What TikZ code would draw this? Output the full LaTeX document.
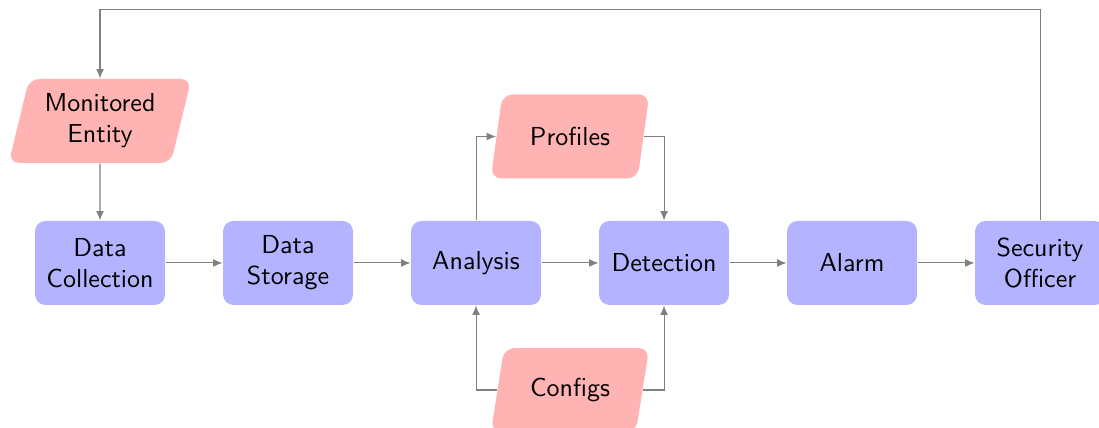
\documentclass[tikz,border=0pt]{standalone}
\usepackage{xcolor}
\definecolor{stageblue}{HTML}{B3B3FF}
\definecolor{datared}{HTML}{FFB3B3}
\definecolor{wiregray}{HTML}{808080}
\usepackage{tikz}
\usetikzlibrary{positioning,shapes.geometric,arrows.meta,calc}

\begin{document}
\begin{tikzpicture}[
    font=\sffamily,
    node distance=0.77cm,
    stage/.style={rectangle, rounded corners=4pt, fill=stageblue, align=center,
                  minimum width=50pt, minimum height=32.3pt, inner sep=2pt},
    store/.style={trapezium, trapezium left angle=75, trapezium right angle=105,
                  trapezium stretches=true, rounded corners=4pt, fill=datared,
                  align=center, minimum width=61pt, minimum height=32.3pt,
                  inner sep=2pt},
    wire/.style={draw=wiregray, line width=0.4pt, -{Latex[length=3.6pt,width=3pt]}}
  ]
  % Fixed frame (last box and configs run off the page)
  \useasboundingbox (-1.352,-2.230) rectangle (13.504,3.555);
  % Main pipeline
  \node[stage] (collection) at (0,0) {Data\\Collection};
  \node[stage, right=of collection] (storage) {Data\\Storage};
  \node[stage, right=of storage] (analysis) {Analysis};
  \node[stage, right=of analysis] (detection) {Detection};
  \node[stage, right=of detection] (alarm) {Alarm};
  \node[stage, right=of alarm] (officer) {Security\\Officer};
  % Inputs and outputs
  \node[store, minimum width=70.4pt, above=0.77cm of collection] (monitored) {Monitored\\Entity};
  \node[store] (profiles) at ($(analysis)!0.5!(detection)+(0,1.71)$) {Profiles};
  \node[store] (configs) at ($(analysis)!0.5!(detection)-(0,1.717)$) {Configs};
  % Pipeline arrows
  \foreach \a/\b in {collection/storage, storage/analysis, analysis/detection,
                     detection/alarm, alarm/officer} {
    \draw[wire] (\a) -- (\b);
  }
  \draw[wire] (monitored) -- (collection);
  % Profiles loop
  \draw[wire] (analysis.north) |- (profiles);
  \draw[wire] (profiles) -| (detection.north);
  % Configs feed
  \draw[wire] (configs) -| (analysis.south);
  \draw[wire] (configs) -| (detection.south);
  % Feedback to the entity
  \draw[wire] (officer.north) -- ++(0,2.852) -| (monitored.north);
\end{tikzpicture}
\end{document}
